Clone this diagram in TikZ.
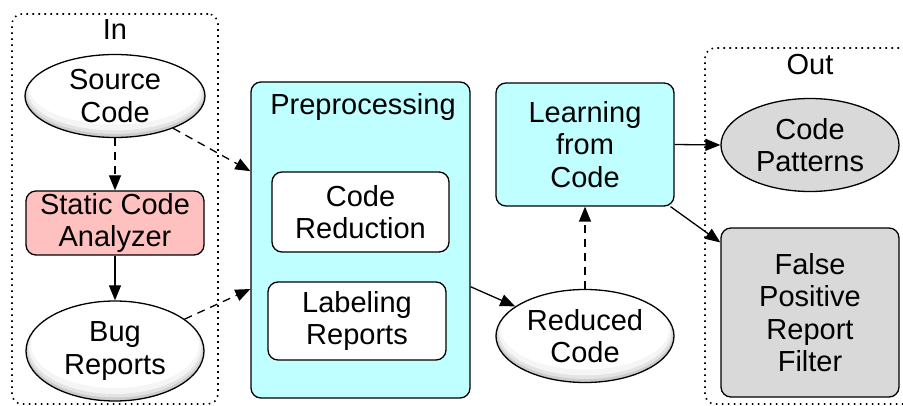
\documentclass[tikz,border=0pt]{standalone}
\usepackage{fontspec}
\setmainfont{Liberation Sans}
\usetikzlibrary{arrows.meta,shapes.geometric}
\definecolor{cyanfill}{HTML}{BFFFFF}
\definecolor{pinkfill}{HTML}{FFC0C0}
\definecolor{grayfill}{HTML}{D9D9D9}
\begin{document}
\begin{tikzpicture}[x=1pt,y=1pt,
  every node/.style={font=\fontsize{29}{32.5}\selectfont, align=center, inner sep=0pt},
  ell/.style 2 args={ellipse, draw, line width=1.3pt, fill=black!20,
    minimum width=#1, minimum height=#2,
    path picture={
      \fill[black!11] ([yshift=2pt]path picture bounding box.center) ellipse ({#1/2-1.5pt} and {#2/2-1.5pt});
      \fill[black!4] ([yshift=4pt]path picture bounding box.center) ellipse ({#1/2-3pt} and {#2/2-3pt});
      \fill[white] ([yshift=7pt]path picture bounding box.center) ellipse ({#1/2-5pt} and {#2/2-6pt});}},
  rbox/.style={rectangle, rounded corners=10pt, draw, line width=1.3pt},
  grp/.style={rectangle, rounded corners=10pt, draw, line width=1.6pt, dash pattern=on 1.6pt off 4.4pt},
  arr/.style={line width=1.3pt, -{Triangle[length=15pt,width=12pt]}},
  darr/.style={arr, dash pattern=on 8pt off 6pt}]
\useasboundingbox (0,-406) rectangle (903,0);
\fill[white] (0,-406) rectangle (903,0);
% group boxes
\node[grp, minimum width=206pt, minimum height=390pt] (inbox) at (115,-209) {};
\node[grp, minimum width=210pt, minimum height=356pt] (outbox) at (810,-226) {};
\node (inlbl) at (115,-30) {In};
\node (outlbl) at (810,-65) {Out};
% left column
\node[ell={180pt}{83pt}] (src) at (115,-96) {Source\\Code};
\node[rbox, fill=pinkfill, minimum width=178pt, minimum height=64pt] (sca) at (115,-223) {Static Code\\Analyzer};
\node[ell={178pt}{100pt}] (bug) at (115,-351) {Bug\\Reports};
% preprocessing
\node[rbox, fill=cyanfill, minimum width=219pt, minimum height=316pt] (pre) at (360.5,-240) {};
\node (prelbl) at (363,-107) {Preprocessing};
\node[rbox, fill=white, minimum width=177pt, minimum height=80pt] (cr) at (360.5,-212) {Code\\Reduction};
\node[rbox, fill=white, minimum width=178pt, minimum height=78pt] (lr) at (357,-321) {Labeling\\Reports};
% learning
\node[rbox, fill=cyanfill, minimum width=178pt, minimum height=123pt] (learn) at (585,-144.5) {Learning\\from\\Code};
\node[ell={178pt}{93pt}] (red) at (585,-336) {Reduced\\Code};
% outputs
\node[ellipse, draw, line width=1.3pt, fill=grayfill, minimum width=178pt, minimum height=93pt] (pat) at (810,-145) {Code\\Patterns};
\node[rbox, fill=grayfill, minimum width=178pt, minimum height=169pt] (fpr) at (810,-312.5) {False\\Positive\\Report\\Filter};
% connectors
\draw[darr] (src) -- (sca);
\draw[arr] (sca) -- (bug);
\draw[darr] (src) -- (pre.148.5);
\draw[darr] (bug) -- (pre.204.5);
\draw[arr] (pre.-23) -- (red.157);
\draw[darr] (red) -- (learn);
\draw[arr] (learn.east) -- (pat.west);
\draw[arr] (learn.-36) -- (fpr.142);
\end{tikzpicture}
\end{document}
